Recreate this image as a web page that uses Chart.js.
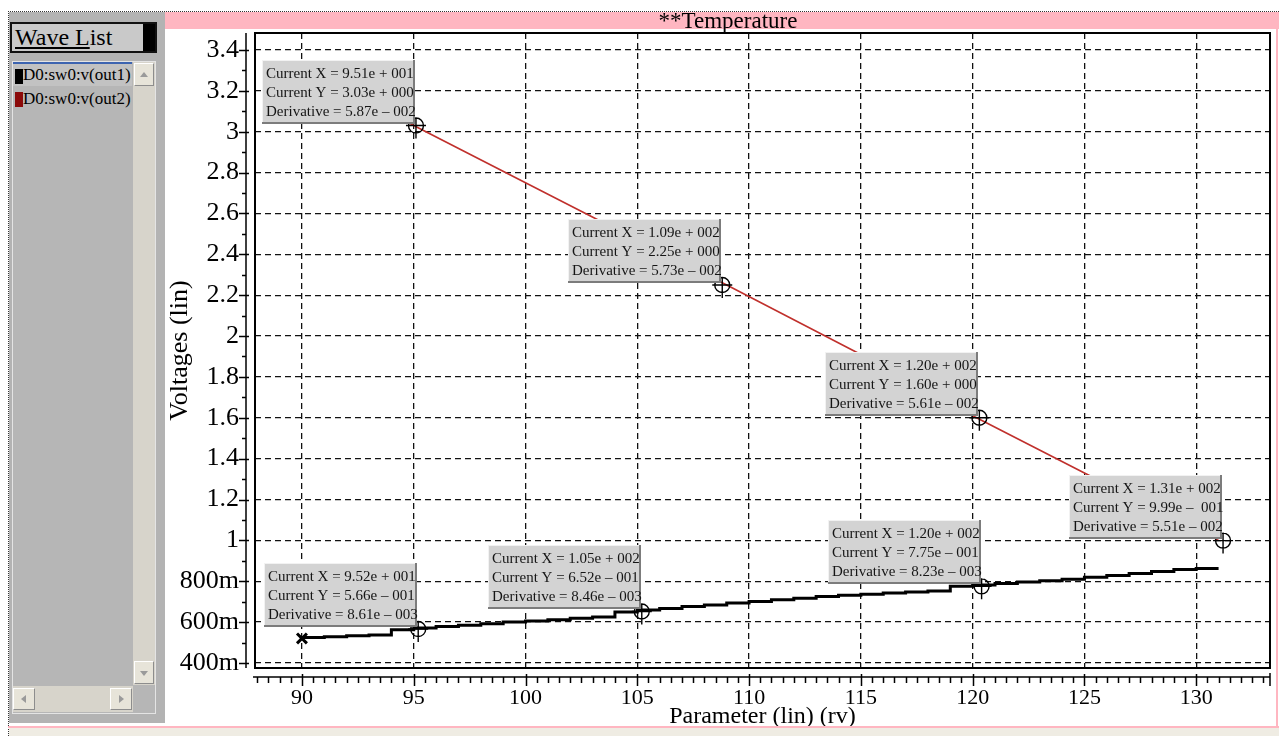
<!DOCTYPE html>
<html>
<head>
<meta charset="utf-8">
<script src="https://cdn.jsdelivr.net/npm/chart.js@4.4.1/dist/chart.umd.min.js"></script>
<style>
  * { box-sizing: border-box; }
  body { margin: 0; width: 1279px; height: 736px; background: #fff; position: relative; overflow: hidden; font-family: "Liberation Serif", "Times New Roman", serif; color: #000; }
  .abs { position: absolute; }
  #outline { left: 8px; top: 11px; width: 1271px; height: 725px; border-left: 1px dotted #333; border-top: 1px dotted #333; }
  #panel { left: 9px; top: 12px; width: 156px; height: 711px; background: #b3b3b3; }
  #btn { left: 10px; top: 22px; width: 147px; height: 31px; border: 2px solid #111; background: #c9c9c9; font-size: 24px; line-height: 26px; padding-left: 3px; }
  #btn .blk { position: absolute; right: 0; top: 0; bottom: 0; width: 12px; background: #000; }
  #list { left: 12px; top: 61px; width: 144px; height: 653px; background: #b6b6b6; border: 1px solid #e4e4e4; }
  .item { left: 13px; width: 119px; height: 24px; font-size: 17px; line-height: 24px; padding-left: 10px; }
  .item .sq { position: absolute; left: 2px; top: 5px; width: 8px; height: 15px; }
  #item1 { top: 62px; background: #c2c2c2; border-top: 2px solid #3d64b0; line-height: 22px; }
  #item2 { top: 87px; }
  .track { background: #d7d4cb; }
  .sbtn { background: #e7e4d9; border-right: 1px solid #8d8d8d; border-bottom: 1px solid #8d8d8d; border-left: 1px solid #fff; border-top: 1px solid #fff; }
  .tri { position: absolute; width: 0; height: 0; }
  #pinkbar { left: 165px; top: 12px; width: 1114px; height: 17px; background: #ffb6c1; font-size: 23px; line-height: 18px; text-align: center; padding-left: 12px; z-index: 2; }
  #pinkbottom { left: 8px; top: 726px; width: 1271px; height: 2px; background: #ffb6c1; z-index: 2; }
  #pinkright { left: 1276px; top: 12px; width: 2px; height: 716px; background: #ffb6c1; z-index: 2; }
  #strip { left: 9px; top: 728px; width: 1270px; height: 8px; background: #efece3; z-index: 2; }
  #wrap { left: 165px; top: 30px; width: 1114px; height: 706px; z-index: 1; }
</style>
</head>
<body>
<div class="abs" id="outline"></div>
<div class="abs" id="panel"></div>
<div class="abs" id="btn"><span style="text-decoration: underline;">Wave L</span>ist<div class="blk"></div></div>
<div class="abs" id="list"></div>
<div class="abs item" id="item1"><div class="sq" style="background:#000;"></div>D0:sw0:v(out1)</div>
<div class="abs item" id="item2"><div class="sq" style="background:#8b0a0a;"></div>D0:sw0:v(out2)</div>
<div class="abs track" style="left:133px; top:62px; width:22px; height:623px;"></div>
<div class="abs sbtn" style="left:134px; top:63px; width:20px; height:23px;"><div class="tri" style="left:5px; top:8px; border-left:4px solid transparent; border-right:4px solid transparent; border-bottom:5px solid #9a9a9a;"></div></div>
<div class="abs sbtn" style="left:134px; top:661px; width:20px; height:23px;"><div class="tri" style="left:5px; top:9px; border-left:4px solid transparent; border-right:4px solid transparent; border-top:5px solid #9a9a9a;"></div></div>
<div class="abs track" style="left:13px; top:686px; width:120px; height:26px;"></div>
<div class="abs sbtn" style="left:13px; top:688px; width:22px; height:22px;"><div class="tri" style="left:7px; top:6px; border-top:4px solid transparent; border-bottom:4px solid transparent; border-right:5px solid #9a9a9a;"></div></div>
<div class="abs sbtn" style="left:110px; top:688px; width:22px; height:22px;"><div class="tri" style="left:8px; top:6px; border-top:4px solid transparent; border-bottom:4px solid transparent; border-left:5px solid #9a9a9a;"></div></div>
<div class="abs" id="pinkbar">**Temperature</div>
<div class="abs" id="pinkbottom"></div>
<div class="abs" id="pinkright"></div>
<div class="abs" id="strip"></div>
<div class="abs" id="wrap"><canvas id="chart" width="1114" height="706"></canvas></div>

<script>
// wave values
const out1X = [90, 91, 92, 93, 94, 95, 96, 97, 98, 99, 100, 101, 102, 103, 104, 105, 106, 107, 108, 109,
               110, 111, 112, 113, 114, 115, 116, 117, 118, 119, 120, 121, 122, 123, 124, 125, 126, 127, 128, 129, 130, 131];
const out1Y = [0.520, 0.525, 0.529, 0.533, 0.537, 0.563, 0.571, 0.578, 0.585, 0.592,
               0.600, 0.606, 0.612, 0.619, 0.625, 0.650, 0.659, 0.667, 0.676, 0.684,
               0.693, 0.701, 0.709, 0.717, 0.725, 0.732, 0.737, 0.742, 0.747, 0.752,
               0.776, 0.782, 0.789, 0.796, 0.803, 0.810, 0.820, 0.828, 0.838, 0.848, 0.857, 0.862];
const out2X = [90, 95, 100, 105, 109, 115, 120, 125, 131];
const out2Y = [3.33, 3.03, 2.75, 2.47, 2.25, 1.91, 1.61, 1.33, 1.00];

// cursor readouts
const cursorX = [95.1, 108.8, 120.3, 131.2, 95.2, 105.2, 120.4];
const cursorY = [3.03, 2.25, 1.60, 0.999, 0.566, 0.652, 0.775];
const cursorXText = ['9.51e + 001', '1.09e + 002', '1.20e + 002', '1.31e + 002', '9.52e + 001', '1.05e + 002', '1.20e + 002'];
const cursorYText = ['3.03e + 000', '2.25e + 000', '1.60e + 000', '9.99e \u2013  001', '5.66e \u2013 001', '6.52e \u2013 001', '7.75e \u2013 001'];
const derivText = ['5.87e \u2013 002', '5.73e \u2013 002', '5.61e \u2013 002', '5.51e \u2013 002', '8.61e \u2013 003', '8.46e \u2013 003', '8.23e \u2013 003'];

const xTickValues = [90, 95, 100, 105, 110, 115, 120, 125, 130];
const yTickValues = [0.4, 0.6, 0.8, 1, 1.2, 1.4, 1.6, 1.8, 2, 2.2, 2.4, 2.6, 2.8, 3, 3.2, 3.4];
const yTickLabels = ['400m', '600m', '800m', '1', '1.2', '1.4', '1.6', '1.8', '2', '2.2', '2.4', '2.6', '2.8', '3', '3.2', '3.4'];

const serif = '"Liberation Serif", "Times New Roman", serif';

const decorPlugin = {
    id: 'decor',
    afterDatasetsDraw(chart) {
        const ctx = chart.ctx;
        const a = chart.chartArea;
        const x = chart.scales.x, y = chart.scales.y;
        ctx.save();
        ctx.setLineDash([]);
        ctx.strokeStyle = '#000';

        // plot frame
        ctx.lineWidth = 2;
        ctx.strokeRect(a.left, a.top, a.right - a.left, a.bottom - a.top);

        // y axis rail with ticks
        const ax = a.left - 9;
        ctx.lineWidth = 1.5;
        ctx.beginPath();
        ctx.moveTo(ax, a.top); ctx.lineTo(ax, a.bottom);
        for (let v = 0.4; v <= 3.45; v += 0.1) {
            const py = Math.round(y.getPixelForValue(v)) + 0.5;
            const major = Math.abs(v * 5 - Math.round(v * 5)) < 0.01;
            ctx.moveTo(major ? ax - 7 : ax - 4, py); ctx.lineTo(ax + (major ? 3 : 0), py);
        }
        ctx.stroke();

        // x axis rail with ticks
        const ay = a.bottom + 9;
        ctx.beginPath();
        ctx.moveTo(a.left - 2, ay); ctx.lineTo(a.right, ay);
        for (let v = 88; v <= 133.3; v += 0.5) {
            const px = Math.round(x.getPixelForValue(v)) + 0.5;
            const major = v % 5 === 0;
            ctx.moveTo(px, ay - (major ? 3 : 0)); ctx.lineTo(px, ay + (major ? 9 : 6));
        }
        ctx.moveTo(a.right, ay - 4); ctx.lineTo(a.right, ay + 9);
        ctx.stroke();

        // cursors: circle + cross, then readout box
        for (let i = 0; i < cursorX.length; i++) {
            const cx = x.getPixelForValue(cursorX[i]);
            const cy = y.getPixelForValue(cursorY[i]);
            ctx.strokeStyle = '#000';
            ctx.lineWidth = 1.4;
            ctx.beginPath();
            ctx.arc(cx, cy, 7.5, 0, Math.PI * 2);
            ctx.moveTo(cx, cy - 8); ctx.lineTo(cx, cy + 13);
            ctx.moveTo(cx - 10, cy); ctx.lineTo(cx + 10, cy);
            ctx.stroke();

            const w = 153, h = 64;
            const bx = Math.round(cx - 1 - w), by = Math.round(cy - 2 - h);
            ctx.fillStyle = '#d3d3d3';
            ctx.fillRect(bx, by, w, h);
            ctx.fillStyle = '#f2f2f2';
            ctx.fillRect(bx, by, w, 1);
            ctx.fillRect(bx, by, 1, h);
            ctx.fillStyle = '#7c7c7c';
            ctx.fillRect(bx, by + h - 2, w, 2);
            ctx.fillRect(bx + w - 2, by, 2, h);

            ctx.fillStyle = '#151515';
            ctx.font = '15px ' + serif;
            ctx.textAlign = 'left';
            ctx.textBaseline = 'middle';
            ctx.fillText('Current X = ' + cursorXText[i], bx + 4, by + 14);
            ctx.fillText('Current Y = ' + cursorYText[i], bx + 4, by + 33);
            ctx.fillText('Derivative = ' + derivText[i], bx + 4, by + 52);
        }
        ctx.restore();
    }
};

new Chart(document.getElementById('chart'), {
    type: 'line',
    data: {
        datasets: [{
            label: 'D0:sw0:v(out1)',
            data: out1X.map((v, i) => ({ x: v, y: out1Y[i] })),
            borderColor: '#000',
            borderWidth: 3,
            stepped: 'after',
            pointRadius: ctx => ctx.dataIndex === 0 ? 7 : 0,
            pointStyle: 'crossRot',
            pointBorderColor: '#000',
            pointBorderWidth: 3
        }, {
            label: 'D0:sw0:v(out2)',
            data: out2X.map((v, i) => ({ x: v, y: out2Y[i] })),
            borderColor: '#c0302c',
            borderWidth: 1.6,
            pointRadius: 0,
            tension: 0
        }]
    },
    options: {
        responsive: false,
        animation: false,
        devicePixelRatio: 1,
        layout: { autoPadding: false, padding: { top: 3, right: 9, left: 0, bottom: 0 } },
        plugins: { legend: { display: false }, tooltip: { enabled: false } },
        scales: {
            x: {
                type: 'linear',
                min: 87.9,
                max: 133.3,
                afterBuildTicks: s => { s.ticks = xTickValues.map(v => ({ value: v })); },
                afterFit: s => { s.height = 68; s.paddingLeft = 0; s.paddingRight = 0; },
                ticks: { color: '#000', font: { family: serif, size: 22 }, padding: 17, maxRotation: 0, autoSkip: false },
                grid: { color: '#111', lineWidth: 1.3, drawTicks: false },
                border: { display: false, dash: [6, 4] },
                title: { display: true, text: 'Parameter (lin) (rv)', color: '#000', font: { family: serif, size: 24 }, padding: { top: 0, bottom: 5 } }
            },
            y: {
                type: 'linear',
                min: 0.3755,
                max: 3.483,
                afterBuildTicks: s => { s.ticks = yTickValues.map(v => ({ value: v })); },
                afterFit: s => { s.width = 90; s.paddingTop = 0; s.paddingBottom = 0; },
                ticks: { color: '#000', font: { family: serif, size: 26 }, padding: 16, autoSkip: false, callback: (v, i) => yTickLabels[i] },
                grid: { color: '#111', lineWidth: 1.3, drawTicks: false },
                border: { display: false, dash: [6, 4] },
                title: { display: true, text: 'Voltages (lin)', color: '#000', font: { family: serif, size: 26 }, padding: 0 }
            }
        }
    },
    plugins: [decorPlugin]
});
</script>
</body>
</html>
